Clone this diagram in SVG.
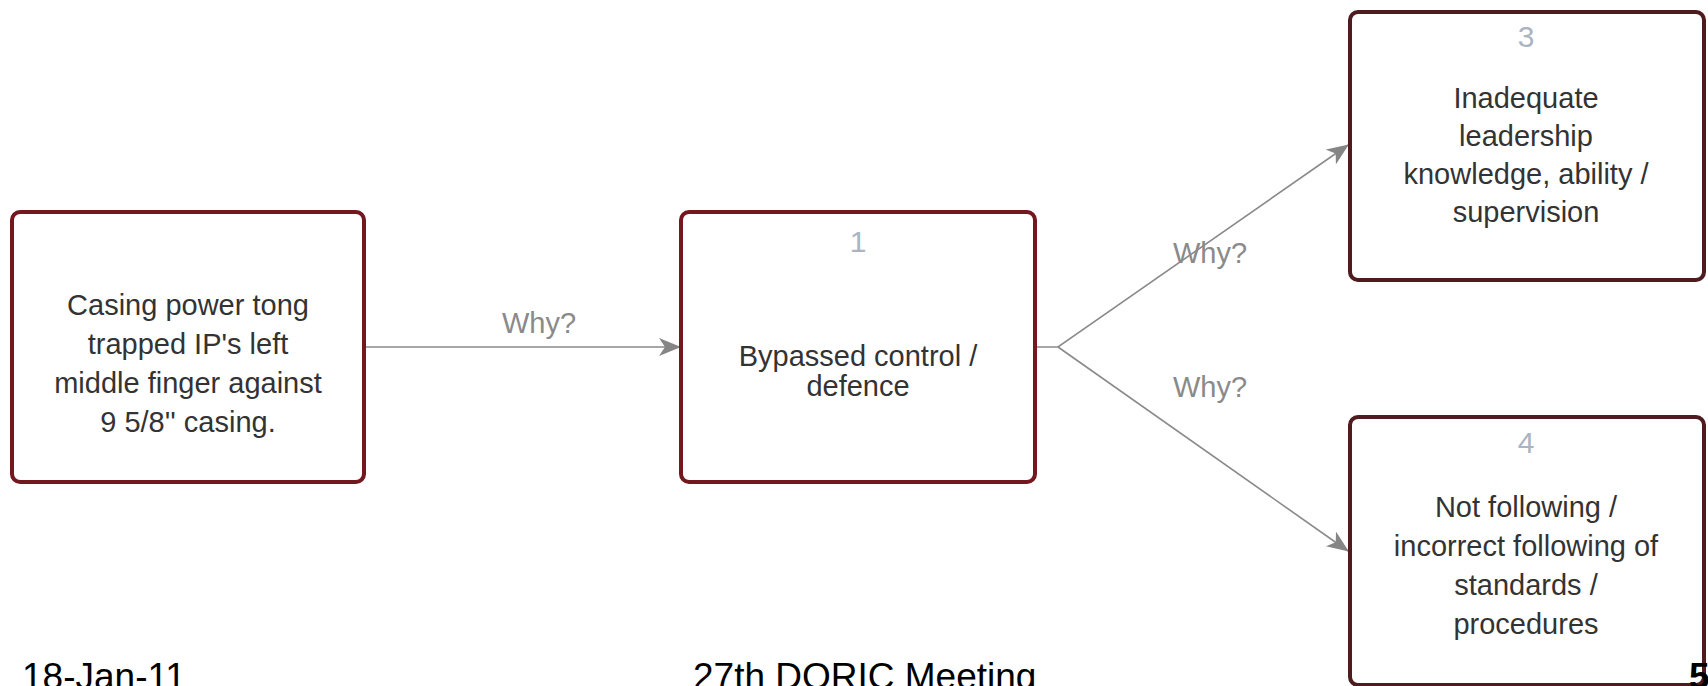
<svg xmlns="http://www.w3.org/2000/svg" width="1708" height="686" viewBox="0 0 1708 686">
<defs>
<marker id="arr" viewBox="0 0 22 18" refX="21" refY="9" markerWidth="22" markerHeight="18" markerUnits="userSpaceOnUse" orient="auto">
<path d="M0,0 L22,9 L0,18 L6,9 Z" fill="#858585"/>
</marker>
<style>
.box{fill:#ffffff;stroke:#741820;stroke-width:4}
.box2{fill:#ffffff;stroke:#4e1c1e;stroke-width:4}
.t{font-family:"Liberation Sans",Arial,sans-serif;font-size:29px;fill:#333333;text-anchor:middle}
.num{font-family:"Liberation Sans",Arial,sans-serif;font-size:30px;fill:#aab4c2;text-anchor:middle}
.why{font-family:"Liberation Sans",Arial,sans-serif;font-size:29px;fill:#8a8a8a;text-anchor:middle}
.c{fill:none;stroke:#8a8a8a;stroke-width:1.6}
.f{font-family:"Liberation Sans",Arial,sans-serif;font-size:37px;fill:#000000}
</style>
</defs>
<rect width="1708" height="686" fill="#ffffff"/>
<g id="connectors">
<line class="c" x1="365" y1="347" x2="680" y2="347" marker-end="url(#arr)"/>
<polyline class="c" points="1036,347 1058,347 1348,145" marker-end="url(#arr)"/>
<polyline class="c" points="1058,347 1348,551" marker-end="url(#arr)"/>
<text class="why" x="539" y="333">Why?</text>
<text class="why" x="1210" y="263">Why?</text>
<text class="why" x="1210" y="397">Why?</text>
</g>
<g id="node0">
<rect class="box" x="12" y="212" width="352" height="270" rx="8"/>
<text class="t" x="188" y="315">Casing power tong</text>
<text class="t" x="188" y="354">trapped IP's left</text>
<text class="t" x="188" y="393">middle finger against</text>
<text class="t" x="188" y="432">9 5/8'' casing.</text>
</g>
<g id="node1">
<rect class="box" x="681" y="212" width="354" height="270" rx="8"/>
<text class="num" x="858" y="252">1</text>
<text class="t" x="858" y="366">Bypassed control /</text>
<text class="t" x="858" y="396">defence</text>
</g>
<g id="node3">
<rect class="box2" x="1350" y="12" width="354" height="268" rx="8"/>
<text class="num" x="1526" y="47">3</text>
<text class="t" x="1526" y="108">Inadequate</text>
<text class="t" x="1526" y="146">leadership</text>
<text class="t" x="1526" y="184">knowledge, ability /</text>
<text class="t" x="1526" y="222">supervision</text>
</g>
<g id="node4">
<rect class="box2" x="1350" y="417" width="354" height="268" rx="8"/>
<text class="num" x="1526" y="453">4</text>
<text class="t" x="1526" y="517">Not following /</text>
<text class="t" x="1526" y="556">incorrect following of</text>
<text class="t" x="1526" y="595">standards /</text>
<text class="t" x="1526" y="634">procedures</text>
</g>
<g id="footer">
<text class="f" x="22" y="689">18-Jan-11</text>
<text class="f" x="693" y="689">27th DORIC Meeting</text>
<text class="f" x="1689" y="689" font-weight="bold">5</text>
</g>
</svg>
